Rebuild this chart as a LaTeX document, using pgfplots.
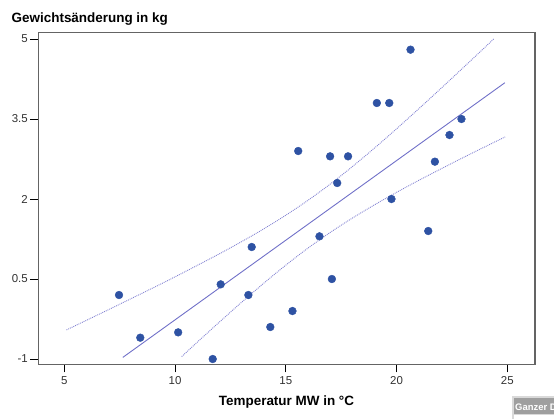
\documentclass[border=0pt]{standalone}
\usepackage{fontspec}
\setmainfont{Liberation Sans}
\usepackage{pgfplots}
\pgfplotsset{compat=1.18}
\definecolor{dotblue}{RGB}{46,82,163}
\definecolor{fitline}{RGB}{112,112,200}
\definecolor{band}{RGB}{130,130,210}
\definecolor{axisgray}{RGB}{100,100,100}
\definecolor{ticktext}{RGB}{50,50,50}
\begin{document}
\begin{tikzpicture}
\useasboundingbox (0,0) rectangle (554bp,419bp);
\begin{axis}[
  at={(38.3bp,54.7bp)}, anchor=south west,
  scale only axis, width=496.7bp, height=331.6bp,
  xmin=3.826, xmax=26.25, ymin=-1.099, ymax=5.118,
  xtick={5,10,15,20,25}, xticklabels={5,10,15,20,25},
  ytick={-1,0.5,2,3.5,5}, yticklabels={-1,0.5,2,3.5,5},
  tick align=outside, tick pos=left,
  major tick length=8bp,
  tick style={black, line width=0.8bp},
  axis line style={axisgray, line width=1.2bp},
  ticklabel style={font=\fontsize{11.5}{13}\selectfont, text=ticktext},
  xticklabel style={yshift=-1bp},
  yticklabel style={xshift=1bp},
  clip=false,
]
% upper confidence band
\addplot[band, densely dotted, line width=0.9bp, smooth] coordinates {
 (5.1,-0.454) (6,-0.274) (7,-0.074) (8,0.129) (9,0.333) (10,0.541) (11,0.755) (12,0.972)
 (13,1.200) (14,1.439) (15,1.696) (16,1.975) (17,2.278) (18,2.606) (19,2.954) (20,3.317)
 (21,3.691) (22,4.072) (23,4.459) (24,4.849) (24.4,5.007)};
% lower confidence band
\addplot[band, densely dotted, line width=0.9bp, smooth] coordinates {
 (10.3,-0.955) (11,-0.685) (12,-0.308) (13,0.062) (14,0.419) (15,0.760) (16,1.079)
 (17,1.372) (18,1.641) (19,1.890) (20,2.125) (21,2.349) (22,2.564) (23,2.775) (24,2.981) (24.9,3.164)};
% regression line
\addplot[fitline, line width=0.9bp] coordinates {(7.64,-0.97) (24.89,4.18)};
% data
\addplot[only marks, mark=*, mark size=3.9bp, dotblue, mark options={fill=dotblue, draw=dotblue}] coordinates {
 (7.47,0.2) (8.43,-0.6) (10.14,-0.5) (11.70,-1.0) (12.06,0.4) (13.31,0.2) (13.46,1.1)
 (14.30,-0.4) (15.30,-0.1) (15.56,2.9) (16.52,1.3) (17.00,2.8) (17.08,0.5) (17.32,2.3)
 (17.81,2.8) (19.11,3.8) (19.67,3.8) (19.77,2.0) (20.63,4.8) (21.43,1.4) (21.73,2.7)
 (22.39,3.2) (22.93,3.5)};
\end{axis}
\node[anchor=base west, inner sep=0pt, font=\fontsize{13.5}{15}\selectfont\bfseries] at (11.5bp,396.3bp) {Gewichtsänderung in kg};
\node[anchor=base, inner sep=0pt, font=\fontsize{13.5}{15}\selectfont\bfseries] at (286.5bp,14bp) {Temperatur MW in °C};
% partial tooltip box at bottom right (cut off by the picture's edge, as in the reference)
\fill[gray!30] (511.5bp,0) rectangle (560bp,22.5bp);
\fill[gray!75] (513.5bp,5bp) rectangle (560bp,20.5bp);
\fill[white] (513.5bp,0) rectangle (560bp,4bp);
\node[anchor=base west, inner sep=0pt, text=white, font=\fontsize{9.5}{11}\selectfont\bfseries] at (515bp,8.5bp) {Ganzer D};
\end{tikzpicture}
\end{document}
